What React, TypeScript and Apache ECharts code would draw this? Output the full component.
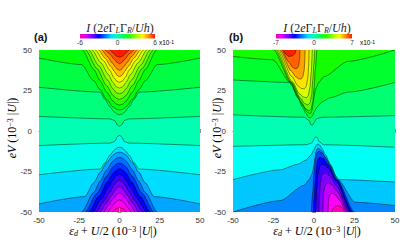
import React, { useEffect, useRef } from 'react';
import * as echarts from 'echarts';

type P = [number, number];

// ---------- Panel (a): contour lines (x = eps_d+U/2, y = eV) ----------
const a_p1: P[] = [[-50,9],[-6,7.5],[-3,6.5],[-1.2,3.6],[0,3],[1.2,3.6],[3,6.5],[6,7.5],[50,9]];
const a_p2: P[] = [[-50,27],[-12,24],[-9,19.5],[-6,15],[-3,11.5],[-1.5,10.4],[0,10],[1.5,10.4],[3,11.5],[6,15],[9,19.5],[12,24],[50,27]];
const a_p3: P[] = [[-50,45],[-23.5,41],[-16,31],[-12,25.5],[-8,19.5],[-4,14.8],[-2,13.5],[0,13],[2,13.5],[4,14.8],[8,19.5],[12,25.5],[16,31],[23.5,41],[50,45]];
const a_p4: P[] = [[-50,55],[-24.5,55],[-23,50],[-16,38],[-12,31],[-8,24],[-4,18.5],[-2,16.6],[0,16],[2,16.6],[4,18.5],[8,24],[12,31],[16,38],[23,50],[24.5,55],[50,55]];
const a_p5: P[] = [[-50,55],[-22.5,55],[-21,50],[-14,38.5],[-8,28],[-4,22],[-2,20.2],[0,19.5],[2,20.2],[4,22],[8,28],[14,38.5],[21,50],[22.5,55],[50,55]];
const a_p6: P[] = [[-50,55],[-20.5,55],[-19,50],[-13,40.5],[-7.5,31.5],[-4,26],[-2,23.7],[0,23],[2,23.7],[4,26],[7.5,31.5],[13,40.5],[19,50],[20.5,55],[50,55]];
const a_p7: P[] = [[-50,55],[-18.5,55],[-17,50],[-11.5,42],[-7,35],[-4,30],[-2,27.3],[0,26.5],[2,27.3],[4,30],[7,35],[11.5,42],[17,50],[18.5,55],[50,55]];
const a_p8: P[] = [[-50,55],[-16.5,55],[-15,50],[-10,43.5],[-6,37.5],[-3.5,33],[-1.7,30.8],[0,30],[1.7,30.8],[3.5,33],[6,37.5],[10,43.5],[15,50],[16.5,55],[50,55]];
const a_p9: P[] = [[-50,55],[-14.5,55],[-13,50],[-9,45],[-5.5,40],[-3,36.5],[-1.5,34.3],[0,33.5],[1.5,34.3],[3,36.5],[5.5,40],[9,45],[13,50],[14.5,55],[50,55]];
const a_p10: P[] = [[-50,55],[-12.5,55],[-11,50],[-7.5,46],[-4.5,42],[-2.5,39.5],[-1.2,38],[0,37.5],[1.2,38],[2.5,39.5],[4.5,42],[7.5,46],[11,50],[12.5,55],[50,55]];
const a_p11: P[] = [[-50,55],[-10.5,55],[-9,50],[-6,47.5],[-3.5,44.5],[-1.5,42.3],[0,41.5],[1.5,42.3],[3.5,44.5],[6,47.5],[9,50],[10.5,55],[50,55]];
const a_p12: P[] = [[-50,55],[-7.5,55],[-6,50],[-4,48.3],[-2,46.3],[0,45.5],[2,46.3],[4,48.3],[6,50],[7.5,55],[50,55]];

const a_m1: P[] = [[-50,-9],[-6,-7.5],[-3,-6.5],[-1.2,-3.4],[0,-2.7],[1.2,-3.4],[3,-6.5],[6,-7.5],[50,-9]];
const a_m2: P[] = [[-50,-27],[-12,-23.5],[-9,-19.5],[-6,-15],[-3,-11.5],[-1.5,-10.4],[0,-10],[1.5,-10.4],[3,-11.5],[6,-15],[9,-19.5],[12,-23.5],[50,-27]];
const a_m3: P[] = [[-50,-45],[-21.5,-40.5],[-16,-32],[-12,-25.5],[-8,-19.5],[-4,-14.8],[-2,-13.5],[0,-13],[2,-13.5],[4,-14.8],[8,-19.5],[12,-25.5],[16,-32],[21.5,-40.5],[50,-45]];
const a_m4: P[] = [[-50,-55],[-25,-55],[-23.5,-50],[-16,-38],[-12,-31],[-8,-24],[-4,-18.5],[-2,-16.8],[0,-16.3],[2,-16.8],[4,-18.5],[8,-24],[12,-31],[16,-38],[23.5,-50],[25,-55],[50,-55]];
const a_m5: P[] = [[-50,-55],[-22.7,-55],[-21.2,-50],[-14,-38.5],[-8,-28],[-4,-22.2],[-2,-20.4],[0,-19.8],[2,-20.4],[4,-22.2],[8,-28],[14,-38.5],[21.2,-50],[22.7,-55],[50,-55]];
const a_m6: P[] = [[-50,-55],[-20.5,-55],[-19,-50],[-13,-40.5],[-7.5,-31.5],[-4,-26],[-2,-23.9],[0,-23.3],[2,-23.9],[4,-26],[7.5,-31.5],[13,-40.5],[19,-50],[20.5,-55],[50,-55]];
const a_m7: P[] = [[-50,-55],[-18.2,-55],[-16.7,-50],[-11.3,-42],[-7,-35],[-4,-30.2],[-2,-27.6],[0,-26.8],[2,-27.6],[4,-30.2],[7,-35],[11.3,-42],[16.7,-50],[18.2,-55],[50,-55]];
const a_m8: P[] = [[-50,-55],[-15.9,-55],[-14.4,-50],[-9.8,-43.5],[-6,-37.8],[-3.5,-33.5],[-1.7,-31.2],[0,-30.5],[1.7,-31.2],[3.5,-33.5],[6,-37.8],[9.8,-43.5],[14.4,-50],[15.9,-55],[50,-55]];
const a_m9: P[] = [[-50,-55],[-13.5,-55],[-12,-50],[-8.5,-45],[-5.3,-40.3],[-3,-37],[-1.5,-35],[0,-34.3],[1.5,-35],[3,-37],[5.3,-40.3],[8.5,-45],[12,-50],[13.5,-55],[50,-55]];
const a_m10: P[] = [[-50,-55],[-11,-55],[-9.6,-50],[-7,-46],[-4.3,-42.3],[-2.4,-40],[-1.2,-38.7],[0,-38.3],[1.2,-38.7],[2.4,-40],[4.3,-42.3],[7,-46],[9.6,-50],[11,-55],[50,-55]];
const a_m11: P[] = [[-50,-55],[-8.5,-55],[-7.2,-50],[-5,-47],[-3,-44.5],[-1.4,-43],[0,-42.5],[1.4,-43],[3,-44.5],[5,-47],[7.2,-50],[8.5,-55],[50,-55]];
const a_m12: P[] = [[-50,-55],[-6,-55],[-4.5,-50],[-3,-48.5],[-1.5,-47.6],[0,-47.3],[1.5,-47.6],[3,-48.5],[4.5,-50],[6,-55],[50,-55]];

// ---------- Panel (b) ----------
const b_p1: P[] = [[-50,10],[-6,8.5],[-3,6.5],[-2,4],[-1,3.6],[0,5],[1.5,7.5],[5,8.5],[50,9.5]];
const b_p2: P[] = [[-50,31.5],[-15,30],[-14,28.3],[-10,20.5],[-7,14.5],[-5,10.8],[-3.5,8.6],[-2.3,8],[-1.2,9],[0,11.5],[2,15],[5,18],[10,20.5],[21,24],[50,30]];
const b_p3: P[] = [[-50,46],[-25.5,44],[-14.6,30],[-10,21.5],[-7,16],[-4.5,12],[-3,10.8],[-2,11],[-1.2,13],[-0.5,17],[0,21],[1,26],[3,30],[6,33.5],[21,43],[50,50]];
const b_p4: P[] = [[-50,53],[-26.5,53],[-25,50],[-14.2,30],[-8,18],[-5,13.6],[-3,12.5],[-1.8,13.5],[-0.8,18],[0,26],[0.8,38],[1.8,50],[2.3,53],[50,53]];
const b_p5: P[] = [[-50,53],[-25.5,53],[-24,50],[-13.8,30],[-8.5,20.5],[-5.8,17],[-3.8,16],[-2.4,17.5],[-1.5,22],[-0.7,32],[0,42],[0.5,50],[1,53],[50,53]];
const b_p6: P[] = [[-50,53],[-24.5,53],[-23,50],[-13.4,30.5],[-9,23],[-6.5,21],[-4.8,20.5],[-3.5,22],[-2.5,27],[-1.7,36],[-1,50],[-0.5,53],[50,53]];
const b_p7: P[] = [[-50,53],[-23.5,53],[-22,50],[-13.5,33.5],[-10,28],[-7.8,26.2],[-6,26],[-4.8,27.5],[-3.9,32],[-3.3,40],[-3,50],[-2.6,53],[50,53]];
const b_p8: P[] = [[-50,53],[-22.5,53],[-21,50],[-14,37],[-11.3,33.5],[-9.3,32.2],[-8,32],[-6.9,33.5],[-6.1,37],[-5.7,43],[-5.5,50],[-5.1,53],[50,53]];
const b_p9: P[] = [[-50,53],[-21.5,53],[-20,50],[-15.5,42.5],[-13.3,39.5],[-11.8,38.5],[-10.5,38.6],[-9.5,40],[-8.9,44],[-8.6,50],[-8.2,53],[50,53]];
const b_p10: P[] = [[-50,53],[-20.5,53],[-19,50],[-17.5,47.5],[-15.5,46],[-13.5,46.3],[-12,47.5],[-11,50],[-10.3,53],[50,53]];

const b_m1: P[] = [[-50,-9.5],[-5,-8.5],[-1.5,-7.5],[0,-5],[1,-3.6],[2,-4],[3,-6.5],[6,-8.5],[50,-10]];
const b_m2: P[] = [[-50,-30],[-21,-24],[-10,-20.5],[-5,-18],[-2,-15],[0,-11.5],[1.2,-9],[2.3,-8],[3.5,-8.6],[5,-10.8],[7,-14.5],[10,-20.5],[14,-28.3],[15,-30],[50,-31.5]];
const b_m3: P[] = [[-50,-50],[-21,-43],[-6,-33.5],[-3,-30],[-1,-26],[0,-21],[0.5,-17],[1.2,-13],[2,-11],[3,-10.8],[4.5,-12],[7,-16],[10,-21.5],[14.6,-30],[25.5,-44],[50,-46]];
const b_m4: P[] = [[-50,-53],[-2.3,-53],[-1.8,-50],[-0.8,-38],[0,-26],[0.8,-18],[1.8,-13.5],[3,-12.5],[5,-13.6],[8,-18],[14.2,-30],[25,-50],[26.5,-53],[50,-53]];
const b_m5: P[] = [[-50,-53],[-1,-53],[-0.5,-50],[0,-42],[0.7,-32],[1.5,-22],[2.4,-17.5],[3.8,-16],[5.8,-17],[8.5,-20.5],[13.8,-30],[24,-50],[25.5,-53],[50,-53]];
const b_m6: P[] = [[-50,-53],[0.5,-53],[1,-50],[1.7,-36],[2.5,-27],[3.5,-22],[4.8,-20.5],[6.5,-21],[9,-23],[13.4,-30.5],[23,-50],[24.5,-53],[50,-53]];
const b_m7: P[] = [[-50,-53],[2.6,-53],[3,-50],[3.3,-40],[3.9,-32],[4.8,-27.5],[6,-26],[7.8,-26.2],[10,-28],[13.5,-33.5],[22,-50],[23.5,-53],[50,-53]];
const b_m8: P[] = [[-50,-53],[5.1,-53],[5.5,-50],[5.7,-43],[6.1,-37],[6.9,-33.5],[8,-32],[9.3,-32.2],[11.3,-33.5],[14,-37],[21,-50],[22.5,-53],[50,-53]];
const b_m9: P[] = [[-50,-53],[8.2,-53],[8.6,-50],[8.9,-44],[9.5,-40],[10.5,-38.6],[11.8,-38.5],[13.3,-39.5],[15.5,-42.5],[20,-50],[21.5,-53],[50,-53]];
const b_m10: P[] = [[-50,-53],[10.3,-53],[11,-50],[12,-47.5],[13.5,-46.3],[15.5,-46],[17.5,-47.5],[19,-50],[20.5,-53],[50,-53]];

// contour lines ordered lowest level first, with the band index lying above each line
const aLines: P[][] = [a_m12,a_m11,a_m10,a_m9,a_m8,a_m7,a_m6,a_m5,a_m4,a_m3,a_m2,a_m1,a_p1,a_p2,a_p3,a_p4,a_p5,a_p6,a_p7,a_p8,a_p9,a_p10,a_p11,a_p12];
const aBands: number[] = [-11,-10,-9,-8,-7,-6,-5,-4,-3,-2,-1,0,1,2,3,4,5,6,7,8,9,10,11,12];
const aLowest = -12;
const bLines: P[][] = [b_m10,b_m9,b_m8,b_m7,b_m6,b_m5,b_m4,b_m3,b_m2,b_m1,b_p1,b_p2,b_p3,b_p4,b_p5,b_p6,b_p7,b_p8,b_p9,b_p10];
const bBands: number[] = [-9,-8,-7,-6,-5,-4,-3,-2,-1,0,1,2,3,4,5,6,7,8,9,10];
const bLowest = -10;

const cbTicksA: string[] = ['-6', '0', '6'];
const cbTicksB: string[] = ['-7', '0', '7'];

function hsv(h: number): string {
  h = ((h % 360) + 360) % 360;
  const f = (n: number) => {
    const k = (n + h / 60) % 6;
    return Math.round(255 * (1 - Math.max(0, Math.min(k, 4 - k, 1))));
  };
  const hx = (v: number) => v.toString(16).padStart(2, '0');
  return '#' + hx(f(5)) + hx(f(3)) + hx(f(1));
}
const colorA = (k: number) => hsv(162 - 13 * k);
const colorB = (k: number) => hsv(162 - 15.5 * k);

const SERIF = 'Liberation Serif';
const SANS = 'Liberation Sans';

function panelSeries(lines: P[][], bands: number[], color: (k: number) => string, axisIdx: number) {
  const areas = lines.map((d, i) => ({
    type: 'line', xAxisIndex: axisIdx, yAxisIndex: axisIdx, data: d,
    smooth: 0.25, smoothMonotone: 'x', symbol: 'none', silent: true, z: 2,
    lineStyle: { width: 0, opacity: 0 },
    areaStyle: { color: color(bands[i]), opacity: 1, origin: 'end' },
  }));
  const strokes = lines.map((d) => ({
    type: 'line', xAxisIndex: axisIdx, yAxisIndex: axisIdx, data: d,
    smooth: 0.25, smoothMonotone: 'x', symbol: 'none', silent: true, z: 3,
    lineStyle: { width: 0.6, color: '#000', opacity: 0.75 },
  }));
  return [...areas, ...strokes];
}

const frameLine = { show: true, lineStyle: { color: '#a0a0a0', width: 1 } };
const tick = { show: true, length: 2, lineStyle: { color: '#909090', width: 1 } };
const lbl = { show: true, fontSize: 8, color: '#333', fontFamily: SANS, margin: 3 };
const noLbl = { show: false };

function xAxes(grid: number) {
  return [
    { gridIndex: grid, type: 'value', min: -50, max: 50, interval: 25, position: 'bottom', offset: 1.5, axisLine: frameLine, axisTick: tick, axisLabel: lbl, splitLine: { show: false } },
    { gridIndex: grid, type: 'value', min: -50, max: 50, interval: 25, position: 'top', offset: 1, axisLine: frameLine, axisTick: tick, axisLabel: noLbl, splitLine: { show: false } },
  ];
}
function yAxes(grid: number) {
  return [
    { gridIndex: grid, type: 'value', min: -50, max: 50, interval: 25, position: 'left', offset: 3, axisLine: frameLine, axisTick: tick, axisLabel: { ...lbl, margin: 4 }, splitLine: { show: false } },
    { gridIndex: grid, type: 'value', min: -50, max: 50, interval: 25, position: 'right', offset: 2.5, axisLine: frameLine, axisTick: tick, axisLabel: noLbl, splitLine: { show: false } },
  ];
}

const mathRich = {
  i: { fontFamily: SERIF, fontStyle: 'italic', fontSize: 12, color: '#222' },
  r: { fontFamily: SERIF, fontSize: 12, color: '#222' },
  s: { fontFamily: SERIF, fontStyle: 'italic', fontSize: 8, color: '#222', verticalAlign: 'bottom' },
  p: { fontFamily: SERIF, fontSize: 8, color: '#222', verticalAlign: 'top' },
};

function gradient() {
  const stops = [];
  for (let i = 0; i <= 12; i++) stops.push({ offset: i / 12, color: hsv(318 - 26 * i) });
  return new echarts.graphic.LinearGradient(0, 0, 1, 0, stops);
}

function colorbar(x0: number, x1: number, ticks: string[], labelX: number, titleX: number) {
  const mid = (x0 + x1) / 2;
  const els: any[] = [
    { type: 'rect', shape: { x: x0, y: 34, width: x1 - x0, height: 4.5 }, style: { fill: gradient() } },
    { type: 'text', x: titleX, y: 28, style: { text: '{i|I} {r|(2}{i|e}{r|Γ}{s|L}{r|Γ}{s|R}{r|/}{i|Uh}{r|)}', rich: mathRich, textAlign: 'center', textVerticalAlign: 'middle', fontFamily: SERIF, fontSize: 12, fill: '#222' } },
    { type: 'text', x: labelX, y: 42.5, style: { text: '{a|x10}{b|-1}', rich: { a: { fontSize: 6.5, fontFamily: SANS, color: '#333' }, b: { fontSize: 5, fontFamily: SANS, color: '#333', verticalAlign: 'top' } }, textAlign: 'left', textVerticalAlign: 'middle', fontSize: 6.5 } },
  ];
  const xs = [x0, mid, x1];
  ticks.forEach((t, i) => els.push({ type: 'text', x: xs[i], y: 42.5, style: { text: t, fontSize: 6.5, fontFamily: SANS, fill: '#333', textAlign: 'center', textVerticalAlign: 'middle' } }));
  return els;
}

const xTitle = '{i|ε}{s|d}{r| + }{i|U}{r|/2 (10}{p|−3}{r| |}{i|U}{r||)}';
const yTitle = '{i|eV}{r| (10}{p|−3}{r| |}{i|U}{r||)}';

export default function App() {
  const ref = useRef<HTMLDivElement>(null);
  useEffect(() => {
    const chart = echarts.init(ref.current!, undefined, { renderer: 'svg' });
    const option: any = {
      animation: false,
      backgroundColor: '#fff',
      grid: [
        { left: 39, top: 50, width: 161, height: 162, show: true, backgroundColor: colorA(aLowest), borderWidth: 0 },
        { left: 233, top: 50, width: 162, height: 162, show: true, backgroundColor: colorB(bLowest), borderWidth: 0 },
      ],
      xAxis: [...xAxes(0), ...xAxes(1)],
      yAxis: [...yAxes(0), ...yAxes(1)],
      series: [...panelSeries(aLines, aBands, colorA, 0), ...panelSeries(bLines, bBands, colorB, 2)],
      graphic: [
        { type: 'text', x: 34, y: 37, style: { text: '(a)', fontSize: 11, fontWeight: 'bold', fontFamily: SANS, fill: '#111', textVerticalAlign: 'middle' } },
        { type: 'text', x: 229, y: 37, style: { text: '(b)', fontSize: 11, fontWeight: 'bold', fontFamily: SANS, fill: '#111', textVerticalAlign: 'middle' } },
        ...colorbar(80, 155, cbTicksA, 159, 120),
        ...colorbar(276, 352, cbTicksB, 360, 317),
        { type: 'text', x: 113, y: 231, style: { text: xTitle, rich: mathRich, textAlign: 'center', textVerticalAlign: 'middle', fontFamily: SERIF, fontSize: 12 } },
        { type: 'text', x: 317, y: 231, style: { text: xTitle, rich: mathRich, textAlign: 'center', textVerticalAlign: 'middle', fontFamily: SERIF, fontSize: 12 } },
        { type: 'text', x: 12, y: 128, rotation: Math.PI / 2, style: { text: yTitle, rich: mathRich, textAlign: 'center', textVerticalAlign: 'middle', fontFamily: SERIF, fontSize: 12 } },
        { type: 'text', x: 217, y: 128, rotation: Math.PI / 2, style: { text: yTitle, rich: mathRich, textAlign: 'center', textVerticalAlign: 'middle', fontFamily: SERIF, fontSize: 12 } },
      ],
    };
    chart.setOption(option);
    return () => chart.dispose();
  }, []);
  return <div ref={ref} style={{ position: 'fixed', left: 0, top: 0, width: 415, height: 251, background: '#fff' }} />;
}
